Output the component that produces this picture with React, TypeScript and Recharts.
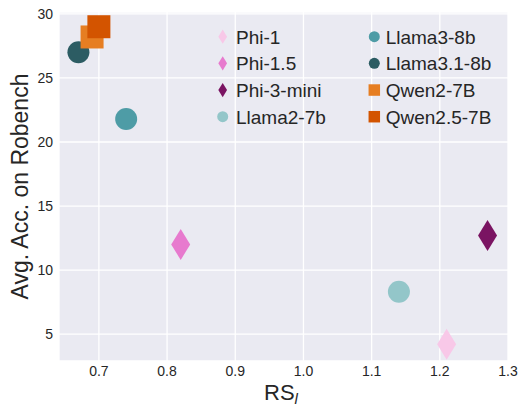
import React from 'react';
import { ScatterChart, Scatter, XAxis, YAxis, CartesianGrid, Legend, Label } from 'recharts';

const models = ['Phi-1', 'Phi-1.5', 'Phi-3-mini', 'Llama2-7b', 'Llama3-8b', 'Llama3.1-8b', 'Qwen2-7B', 'Qwen2.5-7B'];
const rsValues = [1.21, 0.82, 1.27, 1.14, 0.74, 0.67, 0.69, 0.7];
const accValues = [4.2, 12.0, 12.7, 8.3, 21.8, 27.0, 28.2, 29.0];
const xTicks = [0.7, 0.8, 0.9, 1.0, 1.1, 1.2, 1.3];
const yTicks = [5, 10, 15, 20, 25, 30];

const colors = ['#f8c8e8', '#e77ace', '#7a1462', '#93c6c9', '#4e9ca6', '#2c5c63', '#e67e22', '#d35400'];
const markers = ['diamond', 'diamond', 'diamond', 'circle', 'circle', 'circle', 'square', 'square'];

const FONT = '"Liberation Sans", Arial, sans-serif';
const TEXT = '#262626';

const drawMarker = (kind: string, cx: number, cy: number, color: string, k: number) => {
  if (kind === 'diamond') {
    const w = 9.5 * k;
    const h = 15.5 * k;
    return <path d={`M${cx},${cy - h}L${cx + w},${cy}L${cx},${cy + h}L${cx - w},${cy}Z`} fill={color} />;
  }
  if (kind === 'square') {
    const s = 11.5 * k;
    return <rect x={cx - s} y={cy - s} width={s * 2} height={s * 2} fill={color} />;
  }
  return <circle cx={cx} cy={cy} r={11 * k} fill={color} />;
};

const LegendBox = () => (
  <svg width={300} height={110} style={{ display: 'block' }}>
    {models.map((name, i) => {
      const col = i < 4 ? 0 : 1;
      const row = i % 4;
      const mx = col === 0 ? 17.7 : 169.3;
      const tx = col === 0 ? 31 : 180.7;
      const cy = 16.7 + row * 26.67;
      return (
        <g key={name}>
          {drawMarker(markers[i], mx, cy, colors[i], markers[i] === 'diamond' ? 0.46 : 0.5)}
          <text x={tx} y={cy + 6.8} fontSize={19} fontFamily={FONT} fill={TEXT}>
            {name}
          </text>
        </g>
      );
    })}
  </svg>
);

export default function App() {
  return (
    <div style={{ position: 'absolute', left: 0, top: 0 }}>
      <ScatterChart width={520} height={406} margin={{ top: 12, right: 12, bottom: 0, left: 0 }}>
        <CartesianGrid fill="#eaeaf2" stroke="#ffffff" strokeWidth={1.3} />
        <XAxis
          type="number"
          dataKey="x"
          domain={[0.6415, 1.3]}
          ticks={xTicks}
          allowDataOverflow
          height={45}
          axisLine={false}
          tickLine={false}
          tickSize={3}
          tickMargin={2}
          tickFormatter={(v: number) => v.toFixed(1)}
          tick={{ fontSize: 14, fill: TEXT, fontFamily: FONT }}
        >
          <Label
            content={() => (
              <text x={281} y={400} textAnchor="middle" fontFamily={FONT} fill={TEXT}>
                <tspan fontSize={22}>RS</tspan>
                <tspan fontSize={15} fontStyle="italic" dy={4}>l</tspan>
              </text>
            )}
          />
        </XAxis>
        <YAxis
          type="number"
          dataKey="y"
          domain={[2.9, 30.15]}
          ticks={yTicks}
          allowDataOverflow
          width={59}
          axisLine={false}
          tickLine={false}
          tickSize={4}
          tickMargin={2}
          tick={{ fontSize: 14, fill: TEXT, fontFamily: FONT }}
        >
          <Label
            content={() => (
              <text
                x={28}
                y={186.5}
                transform="rotate(-90, 28, 186.5)"
                textAnchor="middle"
                fontSize={23}
                fontFamily={FONT}
                fill={TEXT}
              >
                Avg. Acc. on Robench
              </text>
            )}
          />
        </YAxis>
        <Legend
          layout="horizontal"
          verticalAlign="middle"
          align="center"
          content={() => <LegendBox />}
          wrapperStyle={{ left: 205, top: 20, width: 300, height: 110 }}
        />
        {models.map((name, i) => (
          <Scatter
            key={name}
            name={name}
            data={[{ x: rsValues[i], y: accValues[i] }]}
            isAnimationActive={false}
            shape={(p: any) => drawMarker(markers[i], p.cx, p.cy, colors[i], 1)}
          />
        ))}
      </ScatterChart>
    </div>
  );
}
